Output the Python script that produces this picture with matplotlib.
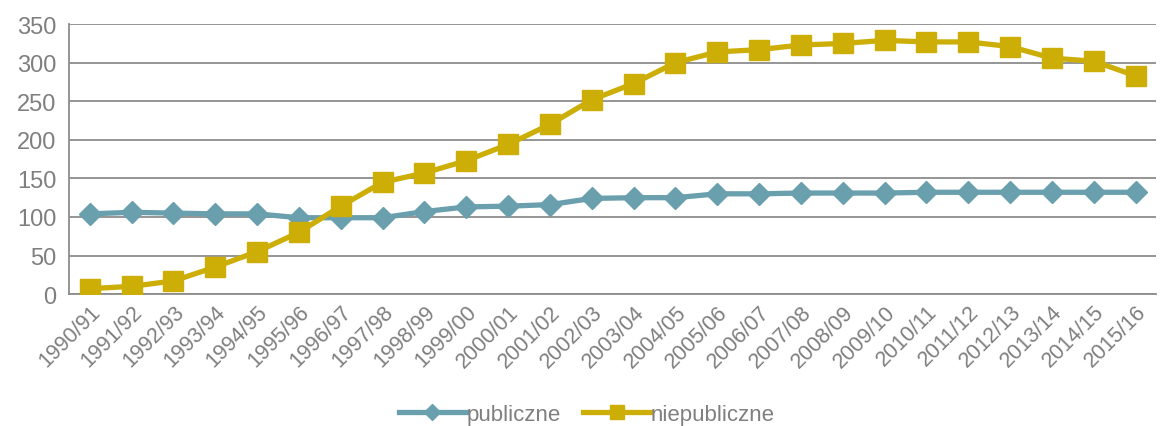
import matplotlib
matplotlib.use("Agg")
import matplotlib.pyplot as plt
import numpy as np

years = ["1990/91", "1991/92", "1992/93", "1993/94", "1994/95", "1995/96", "1996/97",
         "1997/98", "1998/99", "1999/00", "2000/01", "2001/02", "2002/03", "2003/04",
         "2004/05", "2005/06", "2006/07", "2007/08", "2008/09", "2009/10", "2010/11",
         "2011/12", "2012/13", "2013/14", "2014/15", "2015/16"]
publiczne = [104, 106, 105, 104, 104, 99, 99, 99, 107, 113, 114, 116, 124, 125,
             125, 130, 130, 131, 131, 131, 132, 132, 132, 132, 132, 132]
niepubliczne = [7, 10, 17, 35, 55, 80, 114, 145, 157, 173, 194, 220, 252, 273,
                300, 314, 317, 323, 325, 329, 327, 327, 321, 306, 302, 283]
yticks = [0, 50, 100, 150, 200, 250, 300, 350]

plt.rcParams['font.family'] = ['Liberation Sans', 'DejaVu Sans']
text_col = "#7f7f7f"
grid_col = "#8c8c8c"

fig = plt.figure(figsize=(11.67, 4.27), dpi=100)
ax = fig.add_axes([0.059, 0.309, 0.932, 0.632])

x = np.arange(len(years))
ax.plot(x, publiczne, color="#6a9fae", lw=3.8, marker="D", markersize=11,
        label="publiczne", zorder=3)
ax.plot(x, niepubliczne, color="#ccae06", lw=3.8, marker="s", markersize=14,
        label="niepubliczne", zorder=4)

ax.set_xlim(-0.5, len(years) - 0.5)
ax.set_ylim(0, 350)
ax.set_yticks(yticks)
ax.set_xticks(x)
ax.set_xticklabels(years, rotation=45, ha="right", va="top",
                   rotation_mode="anchor")
ax.tick_params(axis="both", length=0, colors=text_col)
ax.tick_params(axis="y", pad=9, labelsize=17)
ax.tick_params(axis="x", pad=5, labelsize=15.5)

ax.grid(axis="y", color=grid_col, lw=1.3)
ax.set_axisbelow(True)
for s in ["top", "right"]:
    ax.spines[s].set_visible(False)
ax.spines["left"].set_color(grid_col)
ax.spines["bottom"].set_color(grid_col)
ax.spines["left"].set_linewidth(1.3)
ax.spines["bottom"].set_linewidth(1.3)

leg = fig.legend(loc="center", bbox_to_anchor=(0.503, 0.027), ncol=2,
                 frameon=False, fontsize=16, labelcolor=text_col,
                 handlelength=3.0, handletextpad=0.05, columnspacing=1.0,
                 markerscale=0.75)

fig.savefig("out.png", dpi=100)
